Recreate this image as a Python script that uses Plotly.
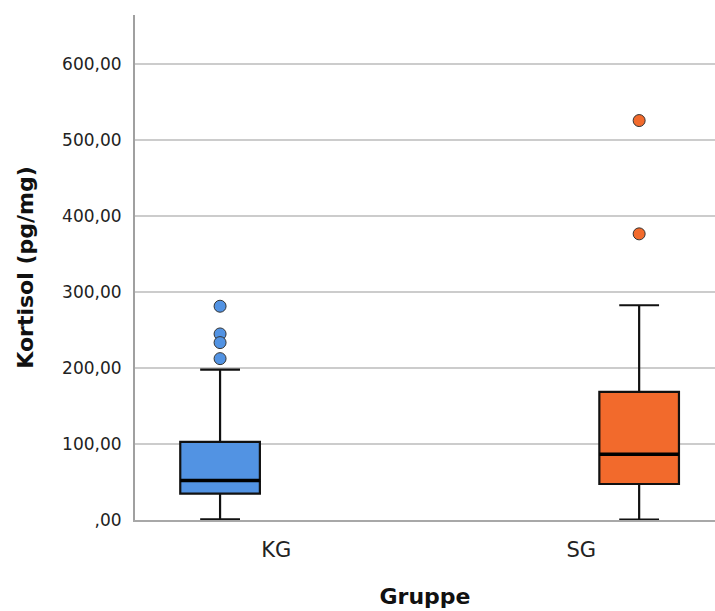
import plotly.graph_objects as go

# ---- data ----
groups = ["KG", "SG"]
q1 = [34.7, 47.4]
median = [52.0, 86.5]
q3 = [103.0, 168.6]
lower_whisker = [1.0, 0.5]
upper_whisker = [198.0, 282.8]
outliers_kg = [281.5, 245.0, 233.6, 212.5]
outliers_sg = [526.0, 376.8]
outliers = [outliers_kg, outliers_sg]

ytick_vals = [0, 100, 200, 300, 400, 500, 600]
ytick_text = [",00", "100,00", "200,00", "300,00", "400,00", "500,00", "600,00"]

fill_colors = ["#5293e3", "#f26a2c"]

# ---- layout / style constants ----
positions = [0, 1]
label_positions = [0.134, 0.862]
box_width = 0.19

fig = go.Figure()

for i, g in enumerate(groups):
    fig.add_trace(go.Box(
        x=[positions[i]],
        q1=[q1[i]], median=[median[i]], q3=[q3[i]],
        lowerfence=[lower_whisker[i]], upperfence=[upper_whisker[i]],
        width=box_width,
        whiskerwidth=0.5,
        fillcolor=fill_colors[i],
        line=dict(color="#111111", width=2.2),
        boxpoints=False,
        name=g,
        showlegend=False,
        hoverinfo="skip",
    ))
    # thicker median line
    fig.add_trace(go.Scatter(
        x=[positions[i] - box_width / 2, positions[i] + box_width / 2],
        y=[median[i], median[i]],
        mode="lines",
        line=dict(color="#000000", width=3.5),
        showlegend=False,
        hoverinfo="skip",
    ))
    # outliers
    fig.add_trace(go.Scatter(
        x=[positions[i]] * len(outliers[i]),
        y=outliers[i],
        mode="markers",
        marker=dict(size=12, color=fill_colors[i],
                    line=dict(color="#333333", width=1)),
        showlegend=False,
        hoverinfo="skip",
    ))

fig.update_layout(
    width=715, height=611,
    margin=dict(l=135, r=0, t=15, b=91),
    paper_bgcolor="white",
    plot_bgcolor="white",
    font=dict(family="DejaVu Sans", color="#222222"),
    xaxis=dict(
        range=[-0.203, 1.181],
        tickmode="array",
        tickvals=label_positions,
        ticktext=groups,
        ticks="",
        tickfont=dict(size=21, color="#222222"),
        ticklabelstandoff=10,
        showgrid=False,
        zeroline=False,
        showline=True,
        linecolor="#a8a8a8",
        linewidth=2,
        title=dict(text="<b>Gruppe</b>", font=dict(size=22, color="#111111"),
                   standoff=27),
    ),
    yaxis=dict(
        range=[0, 665],
        tickmode="array",
        tickvals=ytick_vals,
        ticktext=ytick_text,
        ticks="",
        tickfont=dict(size=17, color="#222222"),
        ticklabelstandoff=8,
        showgrid=True,
        gridcolor="#cccccc",
        gridwidth=1.5,
        zeroline=False,
        showline=True,
        linecolor="#a0a0a0",
        linewidth=2,
        title=dict(text="<b>Kortisol (pg/mg)</b>", font=dict(size=22, color="#111111"),
                   standoff=22),
    ),
)

fig.write_html("out.html")
